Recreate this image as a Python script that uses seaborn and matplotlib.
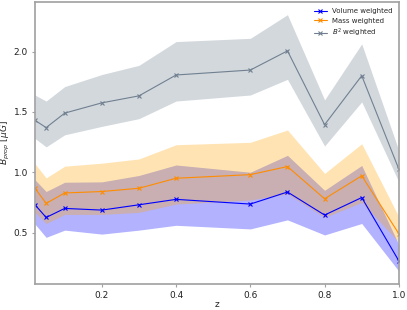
import numpy as np
import pandas as pd
import matplotlib
matplotlib.use("Agg")
import matplotlib.pyplot as plt
import seaborn as sns

# redshift samples
z = [0.02, 0.05, 0.1, 0.2, 0.3, 0.4, 0.6, 0.7, 0.8, 0.9, 1.0]

# volume weighted
vol_mean = [0.73, 0.625, 0.70, 0.686, 0.73, 0.775, 0.736, 0.836, 0.645, 0.79, 0.265]
vol_low = [0.57, 0.46, 0.52, 0.487, 0.52, 0.56, 0.53, 0.605, 0.48, 0.575, 0.18]
vol_high = [0.937, 0.84, 0.917, 0.92, 0.973, 1.06, 1.0, 1.14, 0.85, 1.056, 0.40]

# mass weighted
mass_mean = [0.867, 0.742, 0.828, 0.84, 0.867, 0.95, 0.98, 1.047, 0.78, 0.97, 0.49]
mass_low = [0.667, 0.575, 0.65, 0.65, 0.667, 0.736, 0.77, 0.82, 0.625, 0.75, 0.42]
mass_high = [1.07, 0.953, 1.05, 1.075, 1.11, 1.228, 1.248, 1.35, 0.99, 1.236, 0.63]

# B^2 weighted
b2_mean = [1.43, 1.37, 1.49, 1.575, 1.633, 1.806, 1.847, 2.006, 1.394, 1.80, 1.025]
b2_low = [1.28, 1.21, 1.31, 1.38, 1.444, 1.59, 1.64, 1.77, 1.217, 1.583, 0.92]
b2_high = [1.64, 1.59, 1.71, 1.81, 1.886, 2.083, 2.11, 2.306, 1.60, 2.064, 1.18]

sns.set_style("ticks", {"axes.edgecolor": "#a0a0a0"})
plt.rcParams["font.family"] = ["DejaVu Sans"]
plt.rcParams["axes.linewidth"] = 1.2
plt.rcParams["xtick.color"] = "#a0a0a0"
plt.rcParams["ytick.color"] = "#a0a0a0"
plt.rcParams["xtick.labelcolor"] = "#222222"
plt.rcParams["ytick.labelcolor"] = "#222222"
plt.rcParams["xtick.major.size"] = 2.5
plt.rcParams["ytick.major.size"] = 2.5
plt.rcParams["xtick.major.pad"] = 2.5
plt.rcParams["ytick.major.pad"] = 2.5

fig = plt.figure(figsize=(4.07, 3.10), dpi=100)
ax = fig.add_axes([0.086, 0.084, 0.894, 0.91])

series = [
    ("Volume weighted", vol_mean, vol_low, vol_high, "blue", "blue"),
    ("Mass weighted", mass_mean, mass_low, mass_high, "darkorange", "orange"),
    ("$B^2$ weighted", b2_mean, b2_low, b2_high, "slategray", "slategray"),
]

for label, mean, low, high, col, fcol in series:
    ax.fill_between(z, low, high, color=fcol, alpha=0.3, linewidth=0)
    df = pd.DataFrame({"z": z, "B": mean})
    sns.lineplot(data=df, x="z", y="B", ax=ax, color=col, marker="x",
                 markersize=3.5, markeredgewidth=0.8, markeredgecolor=col,
                 linewidth=0.8, label=label)

ax.set_xlim(0.02, 1.0)
ax.set_yticks([0.5, 1.0, 1.5, 2.0])
ax.tick_params(labelsize=6.5, width=0.8)
ax.set_xlabel("z", fontsize=6.5, labelpad=0)
ax.set_ylabel(r"$B_{prop}\ [\mu G]$", fontsize=6.5, labelpad=1)
ax.legend(loc="upper right", fontsize=5, frameon=False, handlelength=1.8)

fig.savefig("out.png", dpi=100)
